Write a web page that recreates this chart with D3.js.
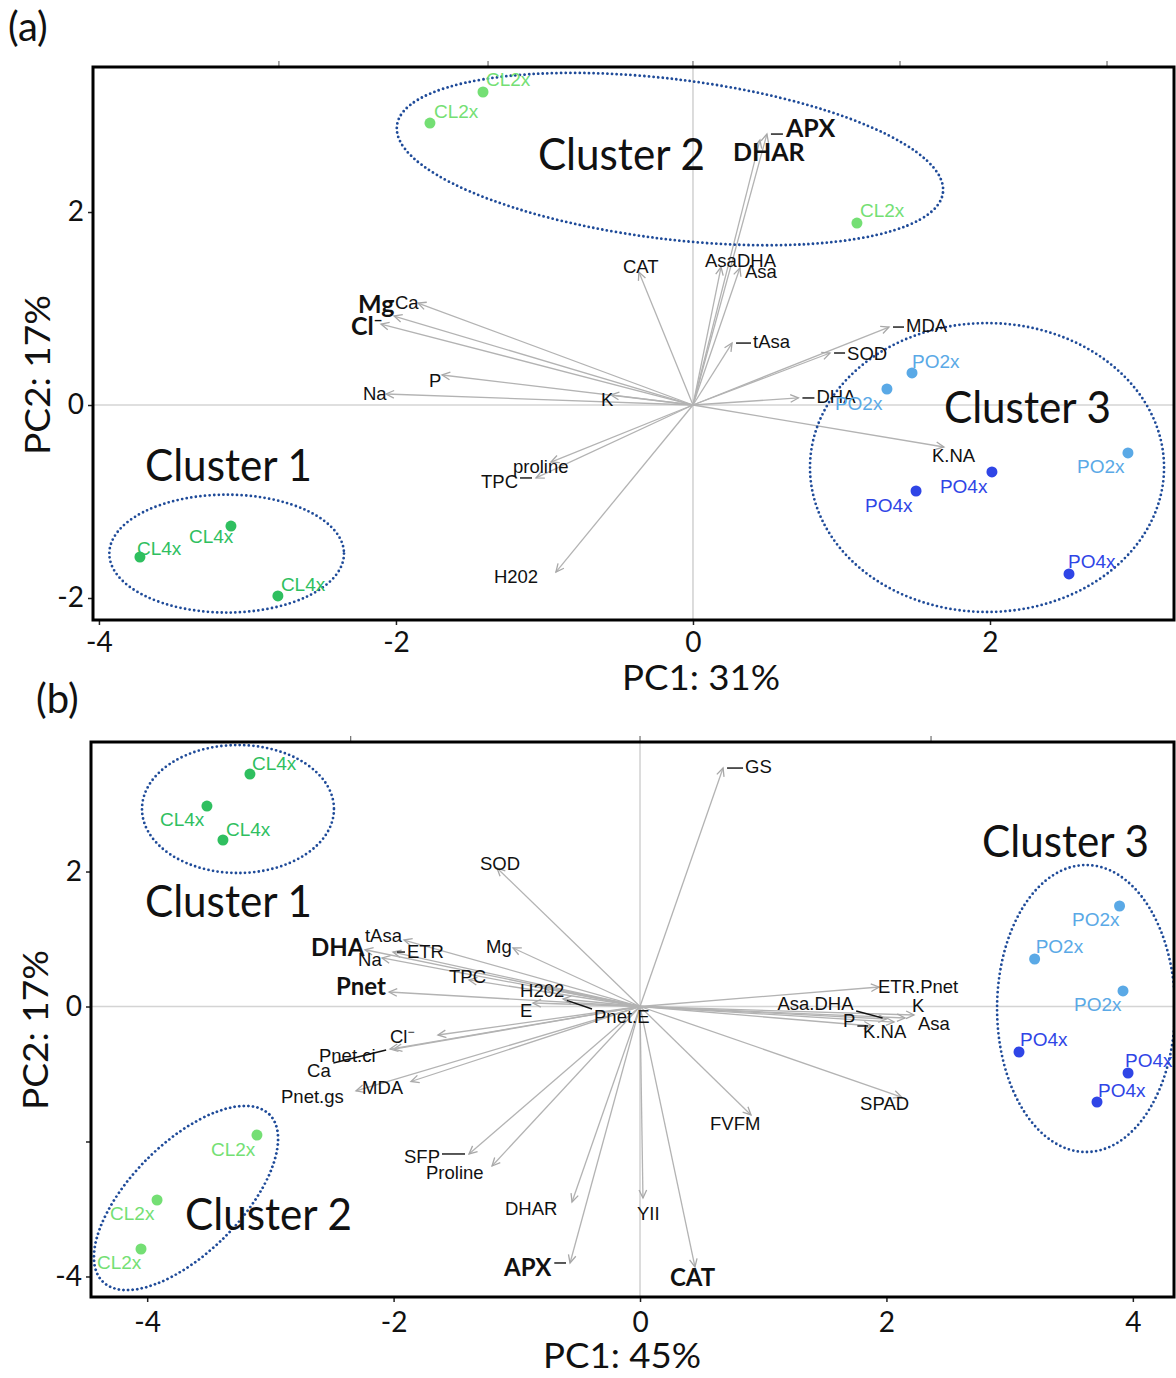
<!DOCTYPE html>
<html><head><meta charset="utf-8">
<script src="https://cdn.jsdelivr.net/npm/d3@7"></script>
<style>body{margin:0;background:#fff}svg{display:block}</style>
</head><body>
<svg id="chart" width="1176" height="1378"></svg>
<script>
// ---------------- Panel (a) data ----------------
const obsNamesA = ["CL2x","CL2x","CL2x","CL4x","CL4x","CL4x","PO2x","PO2x","PO2x","PO4x","PO4x","PO4x"];
const obsPC1A = [-1.414,-1.771,1.104,-3.724,-3.111,-2.795,1.475,1.306,2.929,2.013,1.502,2.532];
const obsPC2A = [3.244,2.922,1.886,-1.575,-1.254,-1.979,0.332,0.166,-0.497,-0.694,-0.891,-1.751];

const varNamesA = ["APX","DHAR","CAT","AsaDHA","Asa","tAsa","MDA","SOD","DHA","K.NA","K","Na","P","proline","TPC","H202","Mg","Ca","Cl⁻"];
const varPC1A = [0.498,0.451,-0.364,0.189,0.316,0.263,1.320,0.923,0.710,1.690,-0.552,-2.067,-1.690,-0.956,-1.057,-0.923,-2.013,-1.852,-2.101];
const varPC2A = [2.808,2.746,1.378,1.430,1.420,0.642,0.808,0.539,0.073,-0.435,0.104,0.114,0.311,-0.591,-0.756,-1.731,0.922,1.057,0.839];

// ---------------- Panel (b) data ----------------
const obsNamesB = ["CL4x","CL4x","CL4x","CL2x","CL2x","CL2x","PO2x","PO2x","PO2x","PO4x","PO4x","PO4x"];
const obsPC1B = [-3.166,-3.515,-3.385,-3.109,-3.920,-4.050,3.892,3.203,3.920,3.076,3.961,3.709];
const obsPC2B = [3.444,2.970,2.467,-1.904,-2.867,-3.593,1.489,0.704,0.230,-0.674,-0.985,-1.415];

const varNamesB = ["GS","SOD","Mg","tAsa","ETR","Na","DHA","TPC","H202","Pnet","E","Pnet.E","Cl⁻","Pnet.ci","Ca","MDA","Pnet.gs","SFP","Proline","DHAR","APX","YII","CAT","FVFM","SPAD","ETR.Pnet","Asa.DHA","K","Asa","P","K.NA"];
const varPC1B = [0.674,-1.161,-1.031,-1.916,-2.005,-2.094,-2.232,-1.388,-0.771,-2.037,-0.869,-0.625,-1.640,-1.997,-2.029,-1.859,-2.305,-1.388,-1.201,-0.552,-0.568,0.024,0.446,0.901,2.123,1.940,2.000,2.224,2.151,1.883,2.062];
const varPC2B = [3.533,2.052,0.867,0.985,0.807,0.719,0.841,0.393,0.274,0.215,0.052,0.111,-0.422,-0.630,-0.630,-1.111,-1.251,-2.185,-2.363,-2.896,-3.800,-2.837,-3.859,-1.607,-1.341,0.289,-0.185,-0.126,-0.170,-0.289,-0.230];

// ---------------- Clusters ----------------
const clusterNames = ["Cluster 1","Cluster 2","Cluster 3"];
const clusterCxA = [-3.14,-0.155,1.980], clusterCyA = [-1.54,2.549,-0.648];
const clusterRxA = [0.79,1.852,1.192],   clusterRyA = [0.611,0.829,1.497];
const clusterCxB = [-3.263,-3.685,3.620], clusterCyB = [2.926,-2.837,-0.030];
const clusterRxB = [0.779,0.958,0.722],   clusterRyB = [0.948,0.815,2.126];
const clusterTextPC1A = [-3.690,-1.044,1.690], clusterTextPC2A = [-0.788,2.435,-0.187];
const clusterTextPC1B = [-4.018,-3.693,2.776], clusterTextPC2B = [1.326,-3.311,2.215];

// ---------------- Axes ----------------
const xTicksA = [-4,-2,0,2], yTicksA = [-2,0,2];
const xTickLabelsA = ["-4","-2","0","2"], yTickLabelsA = ["-2","0","2"];
const xTicksB = [-4,-2,0,2,4], yTicksB = [-4,-2,0,2];
const xTickLabelsB = ["-4","-2","0","2","4"], yTickLabelsB = ["-4","","0","2"];
const topTicksA = [-2.788,-1.38,0,1.394,2.788], topTicksB = [-2.348,0,2.362];
const xTitleA = "PC1: 31%", yTitleA = "PC2: 17%";
const xTitleB = "PC1: 45%", yTitleB = "PC2: 17%";

// ---------------- Layout / style (not data) ----------------
const obsLabelOffA = [[3,-6],[4,-5],[3,-6],[-3,-2],[-42,17],[3,-5],[0,-5],[-52,21],[-51,20],[-52,21],[-51,21],[-1,-6]];
const varLabelOffA = [[19,3],[-27,21],[-16,1],[-16,0],[5,10],[21,5],[17,5],[17,7],[18,5],[-12,15],[-10,11],[-23,6],[-13,12],[-38,11],[-55,10],[-62,11],[-36,-3],[-23,6],[-30,11]];
const leaderA = ["APX","tAsa","MDA","SOD","DHA","TPC"];
const boldA = ["APX","DHAR","Mg","Cl⁻"];
const obsLabelOffB = [[2,-4],[-47,20],[3,-4],[-46,21],[-47,20],[-44,20],[-47.5,20],[1,-6],[-49,20],[1,-6],[-3,-6],[1,-5]];
const varLabelOffB = [[22,5],[-17,2],[-27,5],[-39,2],[14,6],[-24,8],[-54,6],[-20,3],[-25,9],[-53,3],[-13,14],[31,24],[-48,8],[-75,13],[-83,28],[-49,13],[-75,12],[-65,9],[-66,13],[-67,13],[-66,13],[-6,22],[-25,19],[-41,15],[-41.5,13],[-1,6],[-109,-9],[-2,-3],[13,12],[-29,1],[-31,16]];
const leaderB = ["GS","ETR","Pnet.E","Ca","SFP","APX","Asa.DHA","P"];
const boldB = ["DHA","Pnet","APX","CAT"];
const clusterRotA = [0,7,0], clusterRotB = [0,-45,0];
const groupColor = {"CL2x":"#74df74","CL4x":"#2fbf5f","PO2x":"#5aa9e6","PO4x":"#2f45e6"};

const svg = d3.select("#chart");
const defs = svg.append("defs");
defs.append("marker").attr("id","arr").attr("viewBox","-10 -6 12 12")
  .attr("refX",0).attr("refY",0).attr("markerWidth",12).attr("markerHeight",12)
  .attr("markerUnits","userSpaceOnUse").attr("orient","auto")
  .append("path").attr("d","M-8,-3.8 L0,0 L-8,3.8").attr("fill","none")
  .attr("stroke","#a8a8a8").attr("stroke-width",1.3);

const CAL = "Lato, 'Open Sans', sans-serif";
const HEL = "'Liberation Sans', Arial, sans-serif";

function drawPanel(cfg) {
  const x = d3.scaleLinear().domain(cfg.xDomain).range([cfg.left, cfg.right]);
  const y = d3.scaleLinear().domain(cfg.yDomain).range([cfg.bottom, cfg.top]);
  const g = svg.append("g");
  const clipId = "clip" + cfg.id;
  defs.append("clipPath").attr("id", clipId).append("rect")
    .attr("x", cfg.left).attr("y", cfg.top).attr("width", cfg.right - cfg.left).attr("height", cfg.bottom - cfg.top);
  const plot = g.append("g").attr("clip-path", `url(#${clipId})`);

  // reference lines
  plot.append("line").attr("x1", x(0)).attr("x2", x(0)).attr("y1", cfg.top).attr("y2", cfg.bottom)
    .attr("stroke", "#d4d4d4").attr("stroke-width", 1.6);
  plot.append("line").attr("y1", y(0)).attr("y2", y(0)).attr("x1", cfg.left).attr("x2", cfg.right)
    .attr("stroke", "#d4d4d4").attr("stroke-width", 1.6);

  // variable arrows
  const vars = cfg.varNames.map((n, i) => ({n, a: cfg.varPC1[i], b: cfg.varPC2[i], off: cfg.varOff[i]}));
  plot.selectAll("line.arrow").data(vars).join("line").attr("class","arrow")
    .attr("x1", x(0)).attr("y1", y(0))
    .attr("x2", d => x(d.a)).attr("y2", d => y(d.b))
    .attr("stroke", "#b3b3b3").attr("stroke-width", 1.3).attr("marker-end", "url(#arr)");

  // ellipses
  cfg.clusterCx.forEach((cx, i) => {
    const px = x(cx), py = y(cfg.clusterCy[i]);
    const rx = Math.abs(x(cfg.clusterRx[i]) - x(0)), ry = Math.abs(y(cfg.clusterRy[i]) - y(0));
    plot.append("ellipse").attr("cx", 0).attr("cy", 0).attr("rx", rx).attr("ry", ry)
      .attr("transform", `translate(${px},${py}) rotate(${cfg.clusterRot[i]})`)
      .attr("fill", "none").attr("stroke", "#1f4b99").attr("stroke-width", 2.8)
      .attr("stroke-dasharray", "0 4.6").attr("stroke-linecap", "round");
  });

  // variable labels
  const labG = plot.append("g");
  vars.forEach(d => {
    const bold = cfg.bold.includes(d.n);
    const t = labG.append("text")
      .attr("x", x(d.a) + d.off[0]).attr("y", y(d.b) + d.off[1])
      .attr("font-family", bold ? CAL : HEL)
      .attr("font-size", bold ? cfg.boldSize : 18.5)
      .attr("font-weight", bold ? 700 : 400)
      .attr("fill", "#111");
    if (d.n.endsWith("⁻")) {
      t.append("tspan").text(d.n.slice(0, -1));
      t.append("tspan").attr("dy", bold ? -9 : -7).attr("font-size", bold ? 15 : 12).text("−");
    } else t.text(d.n);
    if (cfg.leader.includes(d.n)) {
      const bb = t.node().getBBox();
      const tx = x(d.a), ty = y(d.b);
      const pad = 2;
      const nx = Math.max(bb.x - pad, Math.min(tx, bb.x + bb.width + pad));
      const ny = Math.max(bb.y + 3, Math.min(ty, bb.y + bb.height - 3));
      const dist = Math.hypot(nx - tx, ny - ty);
      if (dist > 4) {
        const sx = tx + (nx - tx) * 4 / dist, sy = ty + (ny - ty) * 4 / dist;
        labG.append("line").attr("x1", sx).attr("y1", sy).attr("x2", nx).attr("y2", ny)
          .attr("stroke", "#111").attr("stroke-width", 1.4);
      }
    }
  });

  // observations
  const obs = cfg.obsNames.map((n, i) => ({n, a: cfg.obsPC1[i], b: cfg.obsPC2[i], off: cfg.obsOff[i]}));
  plot.selectAll("circle.obs").data(obs).join("circle").attr("class","obs")
    .attr("cx", d => x(d.a)).attr("cy", d => y(d.b)).attr("r", 5.5)
    .attr("fill", d => groupColor[d.n]);
  plot.selectAll("text.obs").data(obs).join("text").attr("class","obs")
    .attr("x", d => x(d.a) + d.off[0]).attr("y", d => y(d.b) + d.off[1])
    .attr("font-family", HEL).attr("font-size", 19)
    .attr("fill", d => groupColor[d.n]).text(d => d.n);

  // cluster titles
  clusterNames.forEach((n, i) => {
    plot.append("text").attr("x", x(cfg.clusterTextPC1[i])).attr("y", y(cfg.clusterTextPC2[i]))
      .attr("font-family", CAL).attr("font-size", 44).attr("fill", "#111")
      .attr("textLength", 167).attr("lengthAdjust", "spacingAndGlyphs").text(n);
  });

  // top minor ticks
  g.selectAll("line.topTick").data(cfg.topTicks).join("line").attr("class","topTick")
    .attr("x1", d => x(d)).attr("x2", d => x(d)).attr("y1", cfg.top - 6).attr("y2", cfg.top)
    .attr("stroke", "#555").attr("stroke-width", 1);

  // axes
  const xa = g.append("g").attr("transform", `translate(0,${cfg.bottom})`)
    .call(d3.axisBottom(x).tickValues(cfg.xTicks).tickSize(5).tickPadding(cfg.xPad)
      .tickFormat((d, i) => cfg.xTickLabels[i]));
  const ya = g.append("g").attr("transform", `translate(${cfg.left},0)`)
    .call(d3.axisLeft(y).tickValues(cfg.yTicks).tickSize(5).tickPadding(4)
      .tickFormat((d, i) => cfg.yTickLabels[i]));
  [xa, ya].forEach(a => {
    a.select(".domain").remove();
    a.selectAll("line").attr("stroke", "#222").attr("stroke-width", 1.5);
    a.selectAll("text").attr("font-family", CAL).attr("font-size", 28).attr("fill", "#111");
  });

  // frame
  g.append("rect").attr("x", cfg.left).attr("y", cfg.top)
    .attr("width", cfg.right - cfg.left).attr("height", cfg.bottom - cfg.top)
    .attr("fill", "none").attr("stroke", "#000").attr("stroke-width", 3);

  // titles
  g.append("text").attr("x", cfg.xTitleX).attr("y", cfg.xTitleY).attr("text-anchor", "middle")
    .attr("font-family", CAL).attr("font-size", 35).attr("fill", "#111")
    .attr("textLength", 158).attr("lengthAdjust", "spacingAndGlyphs").text(cfg.xTitle);
  g.append("text").attr("transform", `translate(${cfg.yTitleX},${cfg.yTitleY}) rotate(-90)`)
    .attr("text-anchor", "middle").attr("font-family", CAL).attr("font-size", 35).attr("fill", "#111")
    .attr("textLength", 160).attr("lengthAdjust", "spacingAndGlyphs").text(cfg.yTitle);
  g.append("text").attr("x", cfg.tagX).attr("y", cfg.tagY)
    .attr("font-family", CAL).attr("font-size", 40).attr("fill", "#111").text(cfg.tag);
}

drawPanel({
  id: "A", tag: "(a)", tagX: 8, tagY: 41,
  left: 93, right: 1174, top: 67, bottom: 620,
  xDomain: [-4.040, 3.239], yDomain: [-2.228, 3.503],
  obsNames: obsNamesA, obsPC1: obsPC1A, obsPC2: obsPC2A, obsOff: obsLabelOffA,
  varNames: varNamesA, varPC1: varPC1A, varPC2: varPC2A, varOff: varLabelOffA,
  leader: leaderA, bold: boldA, boldSize: 25,
  clusterCx: clusterCxA, clusterCy: clusterCyA, clusterRx: clusterRxA, clusterRy: clusterRyA, clusterRot: clusterRotA,
  clusterTextPC1: clusterTextPC1A, clusterTextPC2: clusterTextPC2A,
  xTicks: xTicksA, yTicks: yTicksA, xTickLabels: xTickLabelsA, yTickLabels: yTickLabelsA, xPad: 7,
  topTicks: topTicksA,
  xTitle: xTitleA, yTitle: yTitleA, xTitleX: 701, xTitleY: 690, yTitleX: 50, yTitleY: 375
});

drawPanel({
  id: "B", tag: "(b)", tagX: 36, tagY: 713,
  left: 91, right: 1174, top: 742, bottom: 1297,
  xDomain: [-4.456, 4.334], yDomain: [-4.304, 3.919],
  obsNames: obsNamesB, obsPC1: obsPC1B, obsPC2: obsPC2B, obsOff: obsLabelOffB,
  varNames: varNamesB, varPC1: varPC1B, varPC2: varPC2B, varOff: varLabelOffB,
  leader: leaderB, bold: boldB, boldSize: 24,
  clusterCx: clusterCxB, clusterCy: clusterCyB, clusterRx: clusterRxB, clusterRy: clusterRyB, clusterRot: clusterRotB,
  clusterTextPC1: clusterTextPC1B, clusterTextPC2: clusterTextPC2B,
  xTicks: xTicksB, yTicks: yTicksB, xTickLabels: xTickLabelsB, yTickLabels: yTickLabelsB, xPad: 10,
  topTicks: topTicksB,
  xTitle: xTitleB, yTitle: yTitleB, xTitleX: 622, xTitleY: 1368, yTitleX: 48, yTitleY: 1030
});
</script>
</body></html>
